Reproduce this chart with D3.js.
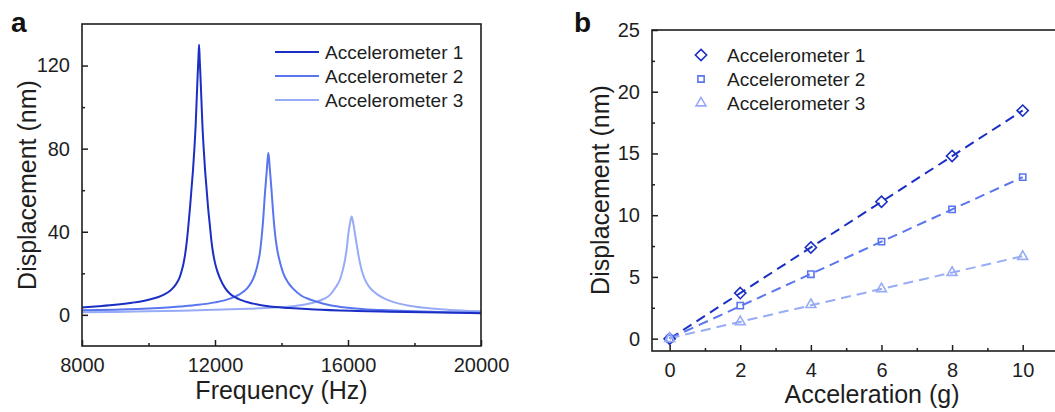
<!DOCTYPE html>
<html>
<head>
<meta charset="utf-8">
<script src="https://d3js.org/d3.v7.min.js"></script>
<style>
  body { margin: 0; background: #fff; }
  svg { display: block; font-family: "Liberation Sans", Arial, sans-serif; }
</style>
</head>
<body>
<svg id="chart" width="1055" height="412"></svg>
<script>
// panel a: frequency response
const freq1 = [8000, 8500, 9000, 9500, 10000, 10450, 10650, 10750, 10850, 10950, 11000, 11050, 11100, 11150, 11200, 11250, 11300, 11340, 11380, 11420, 11450, 11480, 11500, 11520,
  11540, 11560, 11590, 11620, 11660, 11700, 11740, 11790, 11840, 11890, 11940, 12000, 12050, 12150, 12300, 12450, 12600, 12750, 13150, 13650, 14250, 15000, 16250, 17250, 18250, 19250, 20000];
const disp1 = [3.5, 4.1, 4.8, 5.8, 7.3, 9.6, 11.6, 13.2, 15.3, 18.6, 21.3, 24.5, 29, 35, 43, 52, 62, 70, 80, 92, 104, 116, 123, 130,
  123, 116, 104, 92, 80, 70, 62, 52, 44, 36, 30, 25, 22, 17.5, 13, 10.2, 8.5, 7.3, 5.4, 4.0, 3.3, 2.6, 1.9, 1.5, 1.2, 1.0, 0.8];

const freq2 = [8000, 9000, 10000, 10950, 11500, 12000, 12450, 12750, 12950, 13100, 13200, 13300, 13360, 13400, 13440, 13500, 13560, 13604,
  13650, 13700, 13740, 13775, 13820, 13875, 13960, 14055, 14200, 14356, 14600, 14857, 15060, 15460, 16000, 16500, 17000, 18000, 19000, 20000];
const disp2 = [2.2, 2.5, 3.0, 4.0, 4.8, 6.0, 7.8, 10, 12.5, 15.8, 19.5, 25.5, 31, 37, 44, 58, 70, 78,
  70, 60, 51, 44, 37, 31, 25, 20, 15.5, 12.5, 9.2, 7.4, 6.3, 4.6, 3.4, 2.7, 2.3, 1.7, 1.3, 1.0];

const freq3 = [8000, 9000, 10000, 11000, 12000, 13000, 13800, 14250, 14550, 14950, 15250, 15460, 15620, 15760, 15850, 15910, 15970, 16010, 16060, 16110,
  16160, 16210, 16270, 16340, 16420, 16510, 16650, 16850, 17100, 17400, 17800, 18300, 18800, 19400, 20000];
const disp3 = [1.2, 1.4, 1.7, 2.0, 2.4, 2.9, 3.5, 4.0, 4.6, 5.8, 7.5, 9.6, 13, 17, 22, 26.5, 33, 39, 44, 47.3,
  44, 39, 33, 26.5, 21, 17, 13.2, 10.2, 7.8, 6.0, 4.5, 3.4, 2.7, 2.1, 1.7];

// panel b: displacement vs acceleration
const accel = [0, 2, 4, 6, 8, 10];
const dispB1 = [0, 3.69, 7.38, 11.09, 14.8, 18.47];
const dispB2 = [0, 2.67, 5.22, 7.86, 10.47, 13.08];
const dispB3 = [0, 1.37, 2.75, 4.04, 5.36, 6.65];

const names = ["Accelerometer 1", "Accelerometer 2", "Accelerometer 3"];
const colors = ["#1b2fc4", "#5a76ee", "#97abf7"];

const freqTicks = [8000, 12000, 16000, 20000];
const freqMinor = [10000, 14000, 18000];
const dispTicksA = [0, 40, 80, 120];
const dispMinorA = [20, 60, 100];
const accelTicks = [0, 2, 4, 6, 8, 10];
const accelMinor = [1, 3, 5, 7, 9];
const dispTicksB = [0, 5, 10, 15, 20, 25];
const dispMinorB = [2.5, 7.5, 12.5, 17.5, 22.5];

const svg = d3.select("#chart");
const axisCol = "#1e1e1e";
const textCol = "#1e1e1e";

// draws a frame with inward ticks
function drawFrame(g, x, y, xt, xm, yt, ym, fmt) {
  const [x0, x1] = x.range();
  const [y0, y1] = y.range(); // y0 bottom
  g.append("g")
    .attr("transform", `translate(0,${y0})`)
    .call(d3.axisBottom(x).tickValues(xt).tickSize(-6).tickPadding(12).tickFormat(fmt))
    .call(s => s.select(".domain").remove());
  g.append("g")
    .attr("transform", `translate(0,${y0})`)
    .call(d3.axisBottom(x).tickValues(xm).tickSize(-3).tickFormat(""))
    .call(s => s.select(".domain").remove());
  g.append("g")
    .attr("transform", `translate(${x0},0)`)
    .call(d3.axisLeft(y).tickValues(yt).tickSize(-6).tickPadding(12))
    .call(s => s.select(".domain").remove());
  g.append("g")
    .attr("transform", `translate(${x0},0)`)
    .call(d3.axisLeft(y).tickValues(ym).tickSize(-3).tickFormat(""))
    .call(s => s.select(".domain").remove());
  g.selectAll(".tick line").attr("stroke", axisCol).attr("stroke-width", 1.5);
  g.selectAll(".tick text").attr("fill", textCol).style("font-size", "20px").style("font-family", "Liberation Sans, Arial, sans-serif");
  g.append("rect")
    .attr("x", x0).attr("y", y1)
    .attr("width", x1 - x0).attr("height", y0 - y1)
    .attr("fill", "none").attr("stroke", axisCol).attr("stroke-width", 1.6);
}

// ---------- panel a ----------
const xA = d3.scaleLinear().domain([8000, 20000]).range([82, 481]);
const yA = d3.scaleLinear().domain([-15, 140]).range([346, 24]);
const gA = svg.append("g");

const curves = [
  freq1.map((f, i) => [f, disp1[i]]),
  freq2.map((f, i) => [f, disp2[i]]),
  freq3.map((f, i) => [f, disp3[i]])
];
const lineA = d3.line().x(d => xA(d[0])).y(d => yA(d[1])).curve(d3.curveMonotoneX);
gA.append("clipPath").attr("id", "clipA").append("rect")
  .attr("x", 82).attr("y", 24).attr("width", 399).attr("height", 322);
// draw lightest first so dark sits on top
[2, 1, 0].forEach(i => {
  gA.append("path")
    .datum(curves[i])
    .attr("clip-path", "url(#clipA)")
    .attr("d", lineA)
    .attr("fill", "none")
    .attr("stroke", colors[i])
    .attr("stroke-width", 2);
});
drawFrame(gA, xA, yA, freqTicks, freqMinor, dispTicksA, dispMinorA, d3.format("d"));

// legend a
names.forEach((n, i) => {
  const ly = 52 + i * 24;
  gA.append("line").attr("x1", 275).attr("x2", 319).attr("y1", ly).attr("y2", ly)
    .attr("stroke", colors[i]).attr("stroke-width", 2);
  gA.append("text").attr("x", 325).attr("y", ly).attr("dy", "0.35em")
    .style("font-size", "19px").attr("fill", textCol).text(n);
});

gA.append("text").attr("x", (82 + 481) / 2).attr("y", 399)
  .attr("text-anchor", "middle").style("font-size", "25px").attr("fill", textCol).text("Frequency (Hz)");
gA.append("text").attr("transform", "translate(36,185) rotate(-90)")
  .attr("text-anchor", "middle").style("font-size", "25px").attr("fill", textCol).text("Displacement (nm)");
gA.append("text").attr("x", 11).attr("y", 32)
  .style("font-size", "28px").style("font-weight", "bold").attr("fill", "#111").text("a");

// ---------- panel b ----------
const xB = d3.scaleLinear().domain([-0.5, 11]).range([652, 1058]);
const yB = d3.scaleLinear().domain([-1, 25]).range([351, 30]);
const gB = svg.append("g");

const seriesB = [dispB1, dispB2, dispB3];

// least-squares fit lines over the measured points
seriesB.forEach((ys, i) => {
  const mx = d3.mean(accel), my = d3.mean(ys);
  const slope = d3.sum(accel, (a, k) => (a - mx) * (ys[k] - my)) / d3.sum(accel, a => (a - mx) ** 2);
  const icpt = my - slope * mx;
  const ext = d3.extent(accel);
  gB.append("line")
    .attr("x1", xB(ext[0])).attr("y1", yB(icpt + slope * ext[0]))
    .attr("x2", xB(ext[1])).attr("y2", yB(icpt + slope * ext[1]))
    .attr("stroke", colors[i]).attr("stroke-width", 2)
    .attr("stroke-dasharray", "10,6");
});

const symbols = [d3.symbolDiamond2, d3.symbolSquare2, d3.symbolTriangle2];
const symSizes = [80, 50, 70];
seriesB.forEach((ys, i) => {
  gB.selectAll(null)
    .data(accel.map((a, k) => [a, ys[k]]))
    .enter().append("path")
    .attr("transform", d => `translate(${xB(d[0])},${yB(d[1])})`)
    .attr("d", d3.symbol().type(symbols[i]).size(symSizes[i]))
    .attr("fill", "none")
    .attr("stroke", colors[i])
    .attr("stroke-width", 1.6);
});

drawFrame(gB, xB, yB, accelTicks, accelMinor, dispTicksB, dispMinorB, d3.format("d"));

// legend b
names.forEach((n, i) => {
  const ly = 55 + i * 24;
  gB.append("path")
    .attr("transform", `translate(701,${ly})`)
    .attr("d", d3.symbol().type(symbols[i]).size(symSizes[i]))
    .attr("fill", "none").attr("stroke", colors[i]).attr("stroke-width", 1.6);
  gB.append("text").attr("x", 727).attr("y", ly).attr("dy", "0.35em")
    .style("font-size", "19px").attr("fill", textCol).text(n);
});

gB.append("text").attr("x", 872).attr("y", 403)
  .attr("text-anchor", "middle").style("font-size", "25px").attr("fill", textCol).text("Acceleration (g)");
gB.append("text").attr("transform", "translate(609,190) rotate(-90)")
  .attr("text-anchor", "middle").style("font-size", "25px").attr("fill", textCol).text("Displacement (nm)");
gB.append("text").attr("x", 574).attr("y", 32)
  .style("font-size", "28px").style("font-weight", "bold").attr("fill", "#111").text("b");
</script>
</body>
</html>
